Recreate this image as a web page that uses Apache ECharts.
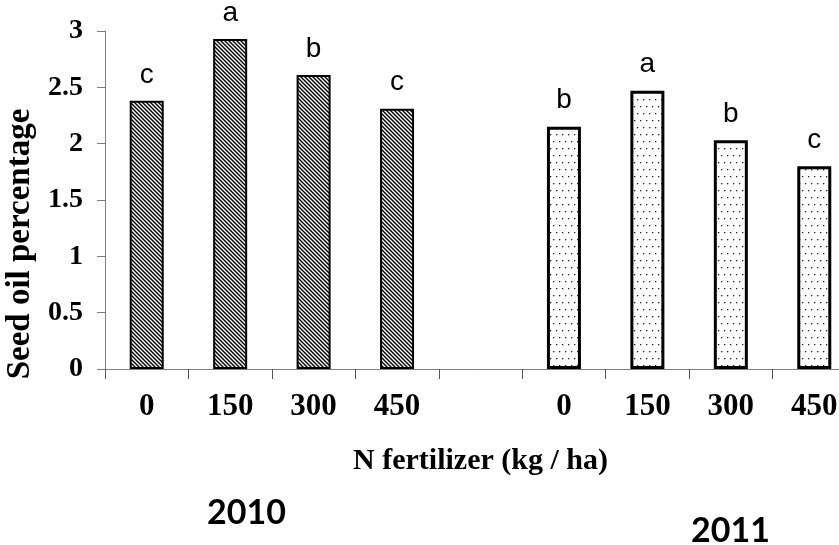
<!DOCTYPE html>
<html>
<head>
<meta charset="utf-8">
<script src="https://cdn.jsdelivr.net/npm/echarts@6/dist/echarts.min.js"></script>
<style>
    * { margin: 0; padding: 0; }
    body { background: #fff; }
    #main { width: 839px; height: 545px; }
</style>
</head>
<body>
<div id="main"></div>
<script>
    // N fertilizer doses (kg / ha), same for both years
    var doses = ['0', '150', '300', '450'];
    var years = ['2010', '2011'];
    // seed oil percentage
    var oil2010 = [2.38, 2.93, 2.61, 2.31];
    var oil2011 = [2.15, 2.47, 2.03, 1.80];
    // letters over the bars
    var letters2010 = ['c', 'a', 'b', 'c'];
    var letters2011 = ['b', 'a', 'b', 'c'];

    // one empty slot between the two years
    var categories = doses.concat([''], doses);
    var gap = doses.length + 1;

    function padRight(arr) {
        var out = arr.slice();
        for (var i = 0; i < categories.length - arr.length; i++) out.push(null);
        return out;
    }
    function padLeft(arr) {
        var out = [];
        for (var i = 0; i < gap; i++) out.push(null);
        return out.concat(arr);
    }

    // diagonal hatch for 2010
    function hatch() {
        var c = document.createElement('canvas');
        c.width = 4; c.height = 4;
        var g = c.getContext('2d');
        g.fillStyle = '#fff';
        g.fillRect(0, 0, 4, 4);
        g.strokeStyle = '#000';
        g.lineWidth = 1.4;
        for (var k = -1; k <= 1; k++) {
            g.beginPath();
            g.moveTo(k * 4 - 1, -1);
            g.lineTo(k * 4 + 5, 5);
            g.stroke();
        }
        return c;
    }
    // sparse dots for 2011
    function dots() {
        var c = document.createElement('canvas');
        c.width = 12; c.height = 14;
        var g = c.getContext('2d');
        g.fillStyle = '#fff';
        g.fillRect(0, 0, 12, 14);
        g.fillStyle = '#222';
        [[1, 1], [7, 1], [4, 8], [10, 8]].forEach(function (p) {
            g.fillRect(p[0], p[1], 1.3, 1.3);
        });
        return c;
    }

    var serif = 'Liberation Serif';
    var letterLabel = function (letters, offset) {
        return {
            show: true,
            position: 'top',
            distance: 12,
            fontFamily: 'Liberation Sans',
            fontSize: 28,
            color: '#000',
            formatter: function (p) { return letters[p.dataIndex - offset]; }
        };
    };

    var myChart = echarts.init(document.getElementById('main'));
    var option = {
        animation: false,
        backgroundColor: '#fff',
        // the axis runs past the right edge of the picture
        grid: {left: 105, right: -17, top: 31, bottom: 176, containLabel: false, outerBoundsMode: 'none'},
        xAxis: {
            type: 'category',
            data: categories,
            name: 'N fertilizer (kg / ha)',
            nameLocation: 'middle',
            nameGap: 77,
            nameTextStyle: {fontFamily: serif, fontWeight: 'bold', fontSize: 30, color: '#000'},
            axisLine: {lineStyle: {color: '#808080', width: 1}},
            axisTick: {show: true, interval: 0, length: 10, lineStyle: {color: '#555'}},
            axisLabel: {interval: 0, margin: 22, fontFamily: serif, fontWeight: 'bold', fontSize: 31, color: '#000'}
        },
        yAxis: {
            type: 'value',
            min: 0,
            max: 3,
            interval: 0.5,
            name: 'Seed oil percentage',
            nameLocation: 'middle',
            nameGap: 60,
            nameTextStyle: {fontFamily: serif, fontWeight: 'bold', fontSize: 33, color: '#000', padding: [0, 88, 0, 0]},
            axisLine: {show: true, lineStyle: {color: '#808080', width: 1}},
            axisTick: {show: true, length: 8, lineStyle: {color: '#808080'}},
            splitLine: {show: false},
            axisLabel: {margin: 22, fontFamily: serif, fontWeight: 'bold', fontSize: 28, color: '#000'}
        },
        series: [
            {
                name: years[0],
                type: 'bar',
                barWidth: 34,
                barGap: '-100%',
                data: padRight(oil2010),
                itemStyle: {color: {image: hatch(), repeat: 'repeat'}, borderColor: '#000', borderWidth: 2},
                label: letterLabel(letters2010, 0)
            },
            {
                name: years[1],
                type: 'bar',
                barWidth: 34,
                barGap: '-100%',
                data: padLeft(oil2011),
                itemStyle: {color: {image: dots(), repeat: 'repeat'}, borderColor: '#000', borderWidth: 3},
                label: letterLabel(letters2011, gap)
            }
        ],
        graphic: [
            {type: 'text', left: 207, top: 496, style: {text: years[0], fontFamily: 'Lato', fontWeight: 'bold', fontSize: 34, fill: '#000'}},
            {type: 'text', left: 691, top: 514, style: {text: years[1], fontFamily: 'Lato', fontWeight: 'bold', fontSize: 34, fill: '#000'}}
        ]
    };
    myChart.setOption(option);
</script>
</body>
</html>
